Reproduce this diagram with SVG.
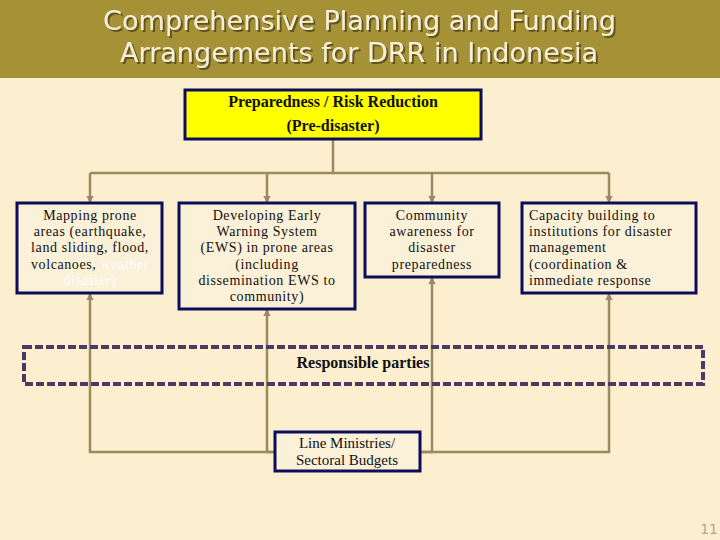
<svg xmlns="http://www.w3.org/2000/svg" width="720" height="540" viewBox="0 0 720 540">
<style>
.title{font-family:"DejaVu Sans","Verdana",sans-serif;font-size:27px;fill:#F6F0D8;text-anchor:middle;filter:url(#sh)}
.box{fill:#FBF0D8;stroke:#0C0C5C;stroke-width:3}
.ybox{fill:#FFFF00;stroke:#0C0C5C;stroke-width:3}
.t{font-family:"Liberation Serif","Times New Roman",serif;font-size:14px;fill:#111;letter-spacing:0.6px}
.c{text-anchor:middle}
.b{font-family:"Liberation Serif","Times New Roman",serif;font-weight:bold;font-size:16px;fill:#111;text-anchor:middle}
.conn{fill:none;stroke:#9A8B5E;stroke-width:2.5}
</style>
<defs>
<filter id="sh" x="-5%" y="-20%" width="110%" height="140%">
<feDropShadow dx="2" dy="2" stdDeviation="0.6" flood-color="#5E4E14" flood-opacity="0.9"/>
</filter>
<marker id="ah" viewBox="0 0 6 6" refX="5" refY="3" markerWidth="3" markerHeight="3" orient="auto">
<path d="M0,0 L6,3 L0,6 z" fill="#9A8B5E"/>
</marker>
</defs>
<rect x="0" y="0" width="720" height="540" fill="#FBEFD0"/>
<g id="title">
<rect x="0" y="0" width="720" height="78" fill="#A69236"/>
<text class="title" x="359.5" y="30" textLength="513" lengthAdjust="spacingAndGlyphs">Comprehensive Planning and Funding</text>
<text class="title" x="359" y="62" textLength="478" lengthAdjust="spacingAndGlyphs">Arrangements for DRR in Indonesia</text>
</g>
<g id="connectors">
<polyline class="conn" points="333,139 333,173"/>
<polyline class="conn" points="90,173 609,173"/>
<polyline class="conn" points="90,173 90,202" marker-end="url(#ah)"/>
<polyline class="conn" points="267,173 267,202" marker-end="url(#ah)"/>
<polyline class="conn" points="432,173 432,202" marker-end="url(#ah)"/>
<polyline class="conn" points="609,173 609,202" marker-end="url(#ah)"/>
<polyline class="conn" points="275,452 90,452 90,294" marker-end="url(#ah)"/>
<polyline class="conn" points="275,452 267,452 267,310" marker-end="url(#ah)"/>
<polyline class="conn" points="420,452 432,452 432,278" marker-end="url(#ah)"/>
<polyline class="conn" points="420,452 609,452 609,294" marker-end="url(#ah)"/>
</g>
<g id="preparedness">
<rect class="ybox" x="185" y="90" width="296" height="49"/>
<text class="b" x="333" y="107">Preparedness / Risk Reduction</text>
<text class="b" x="333" y="131">(Pre-disaster)</text>
</g>
<g id="mapping">
<rect class="box" x="17" y="203" width="145" height="90"/>
<text class="t c" x="90" y="220">Mapping prone</text>
<text class="t c" x="90" y="236">areas (earthquake,</text>
<text class="t c" x="90" y="252">land sliding, flood,</text>
<text class="t c" x="90" y="269">volcanoes, <tspan fill="#FFFFFF">weather</tspan></text>
<text class="t c" x="90" y="285" style="fill:#FFFFFF">disaster)</text>
</g>
<g id="ews">
<rect class="box" x="179" y="203" width="176" height="106"/>
<text class="t c" x="267" y="220">Developing Early</text>
<text class="t c" x="267" y="236">Warning System</text>
<text class="t c" x="267" y="252">(EWS) in prone areas</text>
<text class="t c" x="267" y="269">(including</text>
<text class="t c" x="267" y="285">dissemination EWS to</text>
<text class="t c" x="267" y="301">community)</text>
</g>
<g id="community">
<rect class="box" x="365" y="203" width="134" height="74"/>
<text class="t c" x="432" y="220">Community</text>
<text class="t c" x="432" y="236">awareness for</text>
<text class="t c" x="432" y="252">disaster</text>
<text class="t c" x="432" y="269">preparedness</text>
</g>
<g id="capacity">
<rect class="box" x="522" y="203" width="174" height="90"/>
<text class="t" x="529" y="220">Capacity building to</text>
<text class="t" x="529" y="236">institutions for disaster</text>
<text class="t" x="529" y="252">management</text>
<text class="t" x="529" y="269">(coordination &amp;</text>
<text class="t" x="529" y="285">immediate response</text>
</g>
<g id="responsible">
<rect x="24" y="347" width="679" height="37" fill="none" stroke="#4B3A66" stroke-width="4" stroke-dasharray="8,3"/>
<text class="b" x="363" y="368">Responsible parties</text>
</g>
<g id="line-ministries">
<rect class="box" x="275" y="432" width="145" height="39"/>
<text class="t c" x="347" y="448" style="font-size:15px;letter-spacing:0">Line Ministries/</text>
<text class="t c" x="347" y="465" style="font-size:15px;letter-spacing:0">Sectoral Budgets</text>
</g>
<text x="718" y="534" font-family="DejaVu Sans, sans-serif" font-size="14" fill="#B0A890" text-anchor="end">11</text>
</svg>
